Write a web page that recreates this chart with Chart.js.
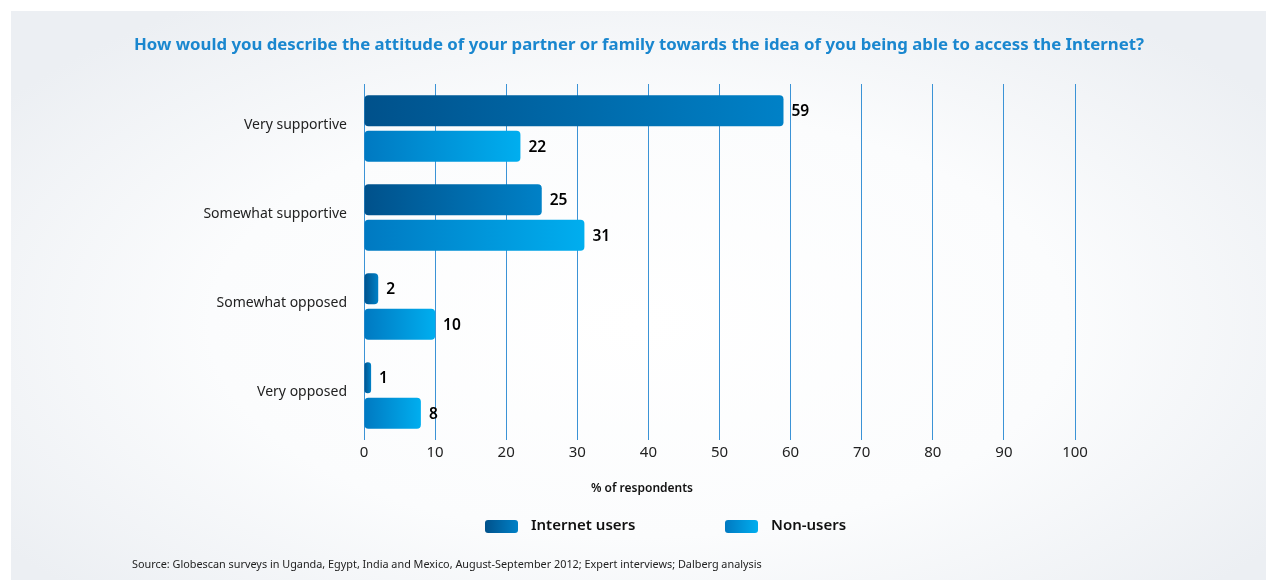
<!DOCTYPE html>
<html>
<head>
<meta charset="utf-8">
<script src="https://cdn.jsdelivr.net/npm/chart.js@4.4.1/dist/chart.umd.min.js"></script>
<style>
  html, body { margin: 0; padding: 0; background: #fff; }
  #wrap { position: relative; width: 1266px; height: 583px; overflow: hidden; }
  #panel {
    position: absolute; left: 11px; top: 11px; width: 1255px; height: 569px;
    background: radial-gradient(ellipse 62% 68% at 50% 55%, #ffffff 0%, #fbfcfd 55%, #eceff3 100%);
  }
  #chart { position: absolute; left: 0; top: 0; }
</style>
</head>
<body>
<div id="wrap">
  <div id="panel"></div>
  <canvas id="chart" width="1266" height="583"></canvas>
</div>
<script>
  const categories = ["Very supportive", "Somewhat supportive", "Somewhat opposed", "Very opposed"];
  const internetUsers = [59, 25, 2, 1];
  const nonUsers = [22, 31, 10, 8];
  const xTicks = [0, 10, 20, 30, 40, 50, 60, 70, 80, 90, 100];

  const titleText = "How would you describe the attitude of your partner or family towards the idea of you being able to access the Internet?";
  const axisTitle = "% of respondents";
  const sourceText = "Source: Globescan surveys in Uganda, Egypt, India and Mexico, August-September 2012; Expert interviews; Dalberg analysis";

  const FONT = "'Noto Sans', 'Open Sans', sans-serif";
  const seriesColors = [
    ["#00518b", "#0081c7"],
    ["#0079c1", "#00aeef"]
  ];

  function barGradient(ctx, seriesIndex) {
    const chart = ctx.chart;
    const area = chart.chartArea;
    if (!area) return seriesColors[seriesIndex][1];
    const x = chart.scales.x;
    const value = ctx.raw || 0;
    const x0 = x.getPixelForValue(0);
    const x1 = Math.max(x.getPixelForValue(value), x0 + 1);
    const g = chart.ctx.createLinearGradient(x0, 0, x1, 0);
    g.addColorStop(0, seriesColors[seriesIndex][0]);
    g.addColorStop(1, seriesColors[seriesIndex][1]);
    return g;
  }

  function roundRect(c, x, y, w, h, r) {
    c.beginPath();
    c.moveTo(x + r, y);
    c.lineTo(x + w - r, y);
    c.quadraticCurveTo(x + w, y, x + w, y + r);
    c.lineTo(x + w, y + h - r);
    c.quadraticCurveTo(x + w, y + h, x + w - r, y + h);
    c.lineTo(x + r, y + h);
    c.quadraticCurveTo(x, y + h, x, y + h - r);
    c.lineTo(x, y + r);
    c.quadraticCurveTo(x, y, x + r, y);
    c.closePath();
  }

  // value labels at the end of each bar
  const valueLabels = {
    id: "valueLabels",
    afterDatasetsDraw(chart) {
      const c = chart.ctx;
      c.save();
      c.font = "600 15.5px " + FONT;
      c.fillStyle = "#000";
      c.textBaseline = "middle";
      c.textAlign = "left";
      chart.data.datasets.forEach((ds, i) => {
        chart.getDatasetMeta(i).data.forEach((bar, j) => {
          c.fillText(String(ds.data[j]), bar.x + 8, bar.y + 1);
        });
      });
      c.restore();
    }
  };

  // title, axis title, legend and source line
  const extras = {
    id: "extras",
    afterDraw(chart) {
      const c = chart.ctx;
      c.save();
      c.textBaseline = "middle";

      c.textAlign = "center";
      c.fillStyle = "#1a87cf";
      c.font = "bold 16.8px " + FONT;
      c.fillText(titleText, 639, 45);

      c.fillStyle = "#111";
      c.font = "600 12px " + FONT;
      c.fillText(axisTitle, 642, 489);

      const items = [
        { label: chart.data.datasets[0].label, x: 485, colors: seriesColors[0] },
        { label: chart.data.datasets[1].label, x: 725, colors: seriesColors[1] }
      ];
      c.textAlign = "left";
      c.font = "600 15px " + FONT;
      items.forEach(it => {
        const g = c.createLinearGradient(it.x, 0, it.x + 33, 0);
        g.addColorStop(0, it.colors[0]);
        g.addColorStop(1, it.colors[1]);
        c.fillStyle = g;
        roundRect(c, it.x, 520, 33, 13, 3);
        c.fill();
        c.fillStyle = "#111";
        c.fillText(it.label, it.x + 46, 526);
      });

      c.font = "10.85px " + FONT;
      c.fillStyle = "#222";
      c.fillText(sourceText, 132, 565);
      c.restore();
    }
  };

  new Chart(document.getElementById("chart"), {
    type: "bar",
    data: {
      labels: categories,
      datasets: [
        {
          label: "Internet users",
          data: internetUsers,
          backgroundColor: ctx => barGradient(ctx, 0),
          borderRadius: 4,
          borderSkipped: false
        },
        {
          label: "Non-users",
          data: nonUsers,
          backgroundColor: ctx => barGradient(ctx, 1),
          borderRadius: 4,
          borderSkipped: false
        }
      ]
    },
    options: {
      indexAxis: "y",
      responsive: false,
      animation: false,
      devicePixelRatio: 1,
      layout: { padding: { left: 0, right: 191, top: 84, bottom: 113 } },
      datasets: {
        bar: { categoryPercentage: 0.8, barPercentage: 0.87 }
      },
      scales: {
        x: {
          min: 0,
          max: 100,
          afterBuildTicks: scale => {
            scale.ticks = xTicks.map(v => ({ value: v }));
          },
          afterFit: scale => { scale.height = 30; },
          grid: {
            color: "#3b93d6",
            lineWidth: 1,
            drawTicks: false
          },
          border: { display: false },
          ticks: {
            color: "#222",
            padding: 4,
            font: { family: FONT, size: 15 }
          }
        },
        y: {
          afterFit: scale => { scale.width = 364; },
          grid: { display: false, drawTicks: false },
          border: { display: false },
          ticks: {
            color: "#222",
            padding: 17,
            labelOffset: -3,
            font: { family: FONT, size: 14 }
          }
        }
      },
      plugins: {
        legend: { display: false },
        tooltip: { enabled: false },
        title: { display: false }
      }
    },
    plugins: [valueLabels, extras]
  });
</script>
</body>
</html>
